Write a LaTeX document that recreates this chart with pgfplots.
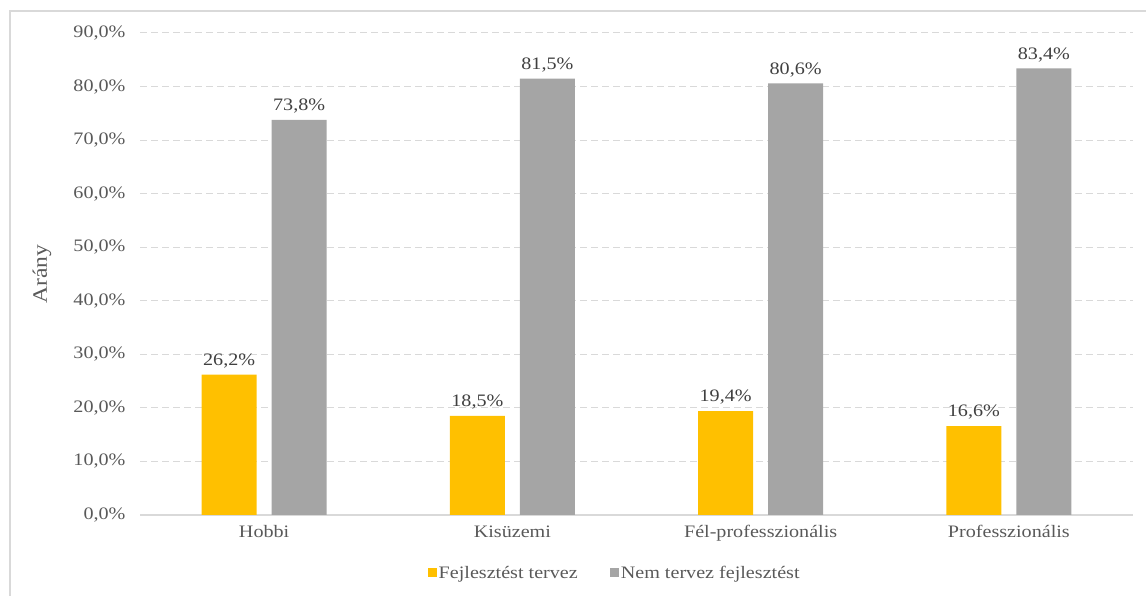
\documentclass[border=0pt]{standalone}
\usepackage{fontspec}
\setmainfont{Liberation Serif}[FakeStretch=1.15]
\usepackage{pgfplots}
\pgfplotsset{compat=1.18}
\definecolor{barYellow}{HTML}{FFC000}
\definecolor{barGray}{HTML}{A5A5A5}
\definecolor{gridGray}{HTML}{D9D9D9}
\definecolor{labelGray}{HTML}{595959}
\definecolor{valueGray}{HTML}{404040}
\newcommand{\chartfont}{\fontsize{17.5}{20}\selectfont}

\begin{document}
\begin{tikzpicture}[x=1pt,y=1pt]
\path[use as bounding box] (0,0) rectangle (1146,596);
% chart area frame
\draw[gridGray, line width=1.5pt] (10,-5) -- (10,585) -- (1150,585);
\begin{axis}[
  at={(140pt,81pt)}, anchor=south west,
  scale only axis, width=993pt, height=482pt,
  ymin=0, ymax=90, xmin=-0.5, xmax=3.5,
  ybar=15pt, bar width=55pt,
  separate axis lines,
  axis x line*=bottom, axis y line*=left,
  x axis line style={gridGray, line width=1.5pt},
  y axis line style={draw=none},
  major tick length=0pt,
  ytick={0,10,...,90},
  ymajorgrids,
  grid style={gridGray, line width=1pt, dash pattern=on 7pt off 4pt},
  xtick={0,1,2,3},
  xticklabels={Hobbi,Kisüzemi,Fél-professzionális,Professzionális},
  yticklabel={\pgfmathprintnumber[fixed,fixed zerofill,precision=1,use comma,assume math mode=true]{\tick}\%},
  ticklabel style={font=\chartfont, text=labelGray},
  yticklabel style={xshift=-11pt},
  xticklabel style={yshift=-7pt},
  ylabel={Arány},
  ylabel style={font=\fontsize{20.5}{24}\selectfont, text=labelGray, at={(axis description cs:-0.0987,0.5)}, anchor=center},
  nodes near coords={\pgfmathprintnumber[fixed,fixed zerofill,precision=1,use comma,assume math mode=true]{\pgfplotspointmeta}\%},
  nodes near coords style={font=\chartfont, text=valueGray, yshift=3pt},
  legend columns=2,
  legend style={at={(0.478,-0.12)}, anchor=center, draw=none, fill=none,
    font=\chartfont, text=labelGray,
    /tikz/every even column/.append style={column sep=30pt}},
  legend image code/.code={\fill[#1,draw=none] (0pt,-4.5pt) rectangle (9pt,4.5pt);},
]
\addplot[fill=barYellow, draw=none] coordinates {(0,26.2) (1,18.5) (2,19.4) (3,16.6)};
\addplot[fill=barGray, draw=none] coordinates {(0,73.8) (1,81.5) (2,80.6) (3,83.4)};
\legend{Fejlesztést tervez, Nem tervez fejlesztést}
\end{axis}
\end{tikzpicture}
\end{document}
